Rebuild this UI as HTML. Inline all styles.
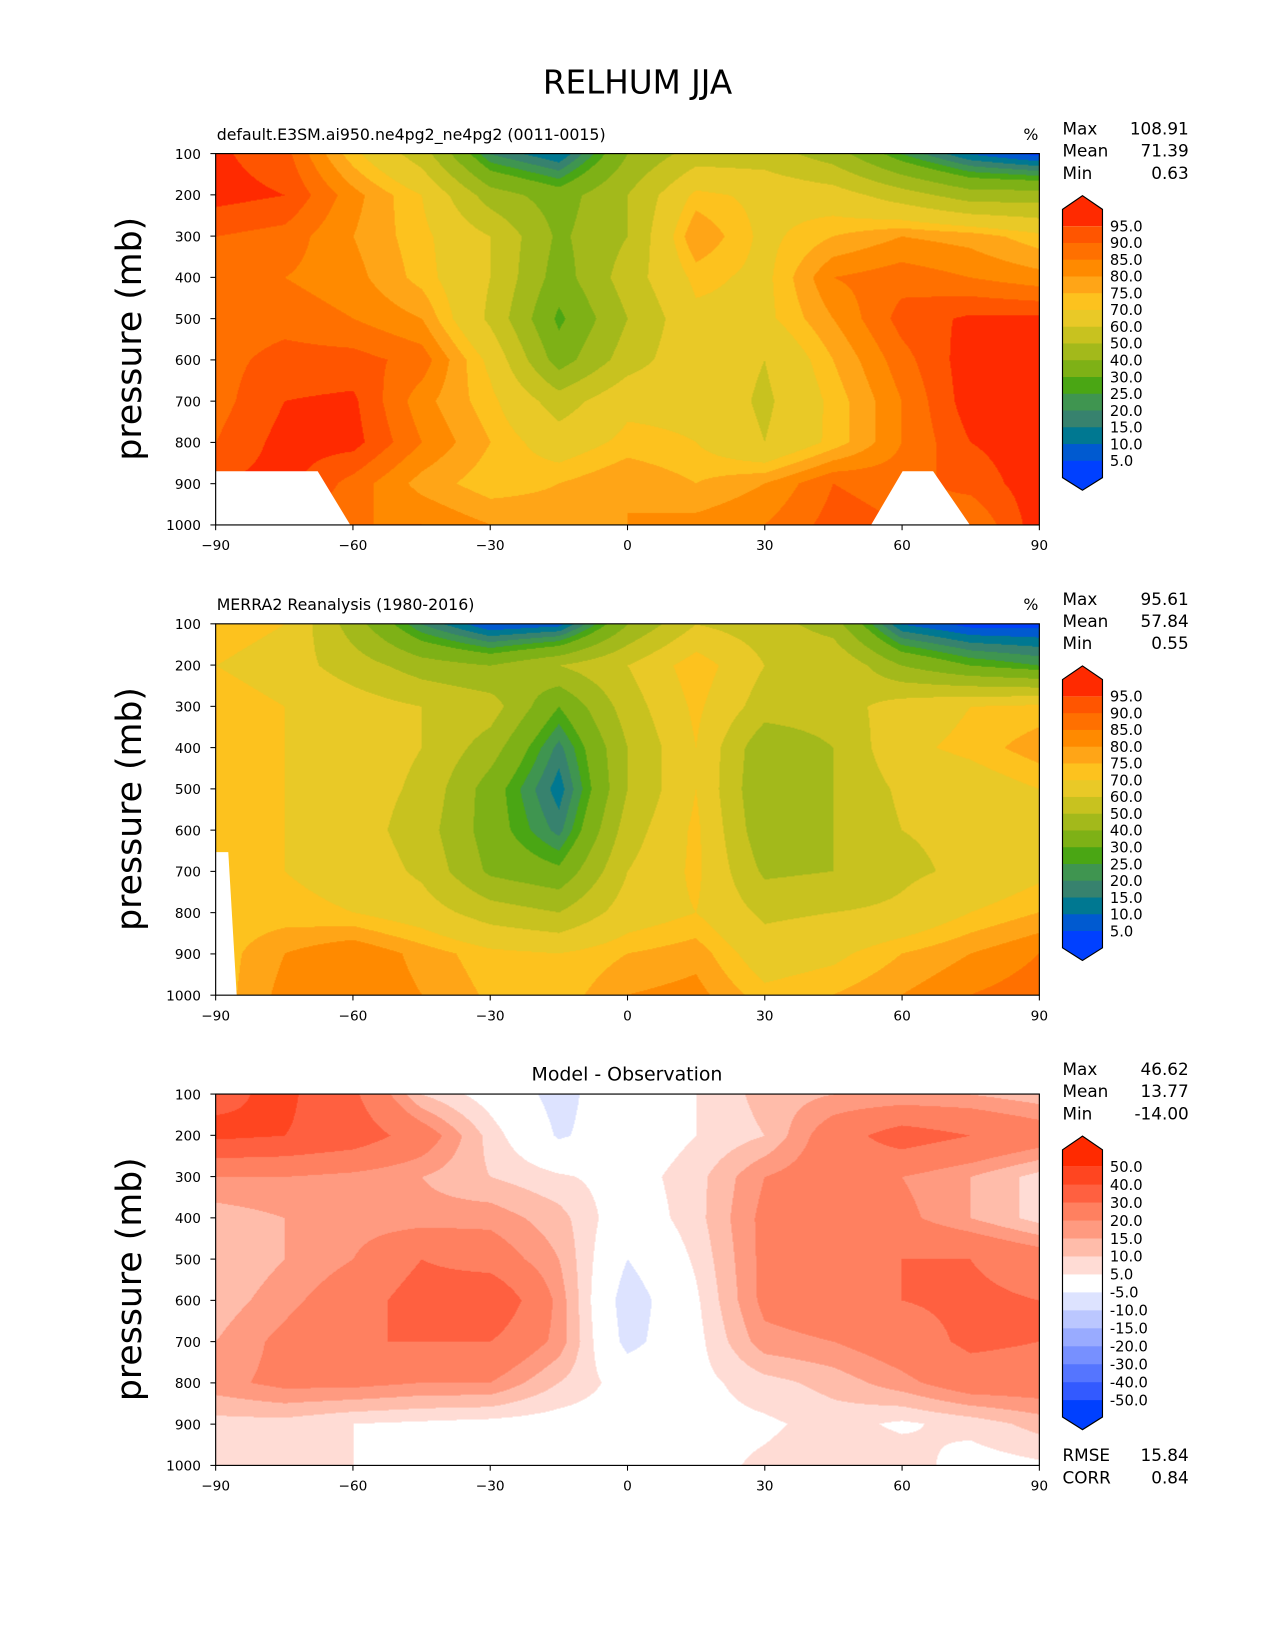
<!DOCTYPE html>
<html><head><meta charset="utf-8">
<style>
html,body{margin:0;padding:0;background:#fff;width:1275px;height:1650px;overflow:hidden}
#w{position:absolute;left:0;top:0;width:1212px;height:1569px;transform:scale(1.05198);transform-origin:0 0;font-family:"DejaVu Sans","Liberation Sans",sans-serif;color:#000}
canvas{position:absolute}
svg{position:absolute;left:0;top:0}
</style></head><body>
<div id="w">
<canvas id="c0" width="824" height="372" style="left:205px;top:146px;width:783px;height:353px"></canvas>
<canvas id="c1" width="824" height="372" style="left:205px;top:593px;width:783px;height:353px"></canvas>
<canvas id="c2" width="824" height="372" style="left:205px;top:1040px;width:783px;height:353px"></canvas>
<svg id="s" width="1212" height="1569" font-family="DejaVu Sans, Liberation Sans, sans-serif"></svg>
</div>
<script>
var F0=[
[96,92,72,55,20,10,40,55,55,45,25,10,3],
[97,95,82,70,45,35,50,72,68,65,55,45,45],
[90,88,80,72,60,38,50,80,68,75,80,78,72],
[88,85,82,73,60,35,55,72,68,85,88,85,82],
[87,88,85,80,58,28,50,68,68,80,92,96,96],
[88,92,92,88,68,35,55,68,60,75,88,98,98],
[88,95,96,82,72,55,68,68,58,72,85,98,98],
[90,97,97,85,75,65,72,70,60,72,85,95,98],
[95,97,88,78,72,75,80,75,80,90,88,92,98],
[90,92,85,85,80,78,80,82,85,92,90,85,98]];
var F1=[
[75,70,45,20,5,8,40,60,55,45,10,3,3],
[70,65,55,45,40,50,60,75,60,60,40,30,25],
[75,70,65,60,55,30,55,72,55,55,65,70,72],
[75,70,65,60,45,18,50,70,42,50,68,72,78],
[72,70,65,58,35,12,50,70,40,50,62,65,70],
[72,70,65,55,35,18,55,72,42,50,60,62,68],
[72,70,67,58,38,32,60,72,48,50,58,62,68],
[72,72,70,65,55,50,65,70,58,60,62,70,75],
[72,80,85,78,72,70,75,78,65,68,75,80,85],
[72,82,85,80,74,72,80,82,72,75,80,85,88]];
var F2=[
[38,42,32,10,2,-8,2,5,12,15,15,15,12],
[42,40,36,25,8,-6,0,5,10,25,35,30,25],
[20,20,18,15,10,6,2,8,20,25,20,15,8],
[12,15,17,17,18,12,0,8,22,25,22,15,8],
[10,15,20,30,25,15,-5,6,22,25,30,30,25],
[12,18,25,35,40,18,-10,4,22,25,30,32,30],
[15,22,30,30,30,18,-8,3,18,20,25,32,30],
[18,22,22,20,20,10,2,3,8,12,18,25,25],
[8,8,5,4,3,2,2,3,4,7,4,7,12],
[8,7,5,4,4,3,3,3,6,8,8,2,4]];
var L1=[5,10,15,20,25,30,40,50,60,70,75,80,85,90,95];
var C1=["#0040ff","#005ad0","#007891","#37826e","#3f9550","#4aa614","#7eb116","#a3b91b","#c8c21f","#e9c927","#fdc21e","#ffa517","#ff8a00","#ff7000","#ff5500","#ff2a00"];
var L2=[-50,-40,-30,-20,-15,-10,-5,5,10,15,20,30,40,50];
var C2=["#0040ff","#335aff","#5575ff","#7790ff","#99abff","#bbc7ff","#dde3ff","#ffffff","#ffdcd5","#ffbcaa","#ff9a80","#ff8060","#ff6040","#ff4520","#ff2a00"];
function hex(h){return [parseInt(h.substr(1,2),16),parseInt(h.substr(3,2),16),parseInt(h.substr(5,2),16)];}
function draw(id,F,L,C){
 var cv=document.getElementById(id),W=cv.width,H=cv.height,ctx=cv.getContext('2d');
 var img=ctx.createImageData(W,H),d=img.data,RC=C.map(hex);
 for(var y=0;y<H;y++){var fy=y/(H-1)*9,j=Math.min(8,Math.floor(fy)),ty=fy-j;
  for(var x=0;x<W;x++){var fx=x/(W-1)*12,i=Math.min(11,Math.floor(fx)),tx=fx-i;
   var v=(F[j][i]*(1-tx)+F[j][i+1]*tx)*(1-ty)+(F[j+1][i]*(1-tx)+F[j+1][i+1]*tx)*ty;
   var k=0;while(k<L.length&&v>=L[k])k++;
   var c=RC[k],o=(y*W+x)*4;d[o]=c[0];d[o+1]=c[1];d[o+2]=c[2];d[o+3]=255;}}
 ctx.putImageData(img,0,0);
}
draw('c0',F0,L1,C1);draw('c1',F1,L1,C1);draw('c2',F2,L2,C2);
var s='';
function t(x,y,str,sz,anc){s+='<text x="'+x+'" y="'+y+'" font-size="'+sz+'" text-anchor="'+(anc||'start')+'">'+str+'</text>';}
t(606,89,'RELHUM JJA',31,'middle');
s+='<polygon points="205,448 302,448 333,499 205,499" fill="#fff"/>';
s+='<polygon points="858,448 887,448 922,499 828,499" fill="#fff"/>';
s+='<polygon points="205,810 217,810 225,946 205,946" fill="#fff"/>';
var tops=[146,593,1040];
var stats=[["108.91","71.39","0.63"],["95.61","57.84","0.55"],["46.62","13.77","-14.00"]];
for(var p=0;p<3;p++){
 var T=tops[p],B=T+353;
 s+='<rect x="205" y="'+T+'" width="783" height="353" fill="none" stroke="#000" stroke-width="1.1"/>';
 for(var k=0;k<10;k++){var y=T+k*353/9;s+='<line x1="200" x2="205" y1="'+y+'" y2="'+y+'" stroke="#000"/>';t(191,y+5,String((k+1)*100),13,'end');}
 for(var k=0;k<7;k++){var x=205+k*783/6;s+='<line x1="'+x+'" x2="'+x+'" y1="'+B+'" y2="'+(B+5)+'" stroke="#000"/>';var lb=[-90,-60,-30,0,30,60,90][k];t(x,B+24,(lb<0?'\u2212'+(-lb):String(lb)),13,'middle');}
 s+='<text transform="translate(134,'+(T+176)+') rotate(-90)" font-size="33" text-anchor="middle">pressure (mb)</text>';
 var st=stats[p];
 t(1010,T-18,'Max',16);t(1130,T-18,st[0],16,'end');
 t(1010,T+3,'Mean',16);t(1130,T+3,st[1],16,'end');
 t(1010,T+24,'Min',16);t(1130,T+24,st[2],16,'end');
 var L=p<2?L1:L2,C=p<2?C1:C2,n=L.length,cbT=T+69,step=p<2?15.93:222/(n-1),cbB=cbT+step*(n-1);
 for(var k=0;k<n-1;k++){s+='<rect x="1010" y="'+(cbT+k*step)+'" width="38" height="'+(step+0.5)+'" fill="'+C[n-1-k]+'"/>';}
 s+='<polygon points="1010,'+cbT+' 1010,'+(cbT-16)+' 1029,'+(cbT-29)+' 1048,'+(cbT-16)+' 1048,'+cbT+'" fill="'+C[n]+'"/>';
 s+='<polygon points="1010,'+cbB+' 1010,'+(cbB+16)+' 1029,'+(cbB+28)+' 1048,'+(cbB+16)+' 1048,'+cbB+'" fill="'+C[0]+'"/>';
 s+='<polygon points="1010,'+(cbT-16)+' 1029,'+(cbT-29)+' 1048,'+(cbT-16)+' 1048,'+(cbB+16)+' 1029,'+(cbB+28)+' 1010,'+(cbB+16)+'" fill="none" stroke="#000" stroke-width="1.1"/>';
 for(var k=0;k<n;k++){var v=L[n-1-k];var yy=cbT+k*step;t(1055,yy+5,v.toFixed(1),14);}
}
t(206,133,'default.E3SM.ai950.ne4pg2_ne4pg2 (0011-0015)',15);t(987,133,'%',15,'end');
t(206,580,'MERRA2 Reanalysis (1980-2016)',15);t(987,580,'%',15,'end');
t(596,1027,'Model - Observation',18,'middle');
t(1010,1389,'RMSE',16);t(1130,1389,'15.84',16,'end');
t(1010,1410,'CORR',16);t(1130,1410,'0.84',16,'end');
document.getElementById('s').innerHTML=s;
</script>
</body></html>
